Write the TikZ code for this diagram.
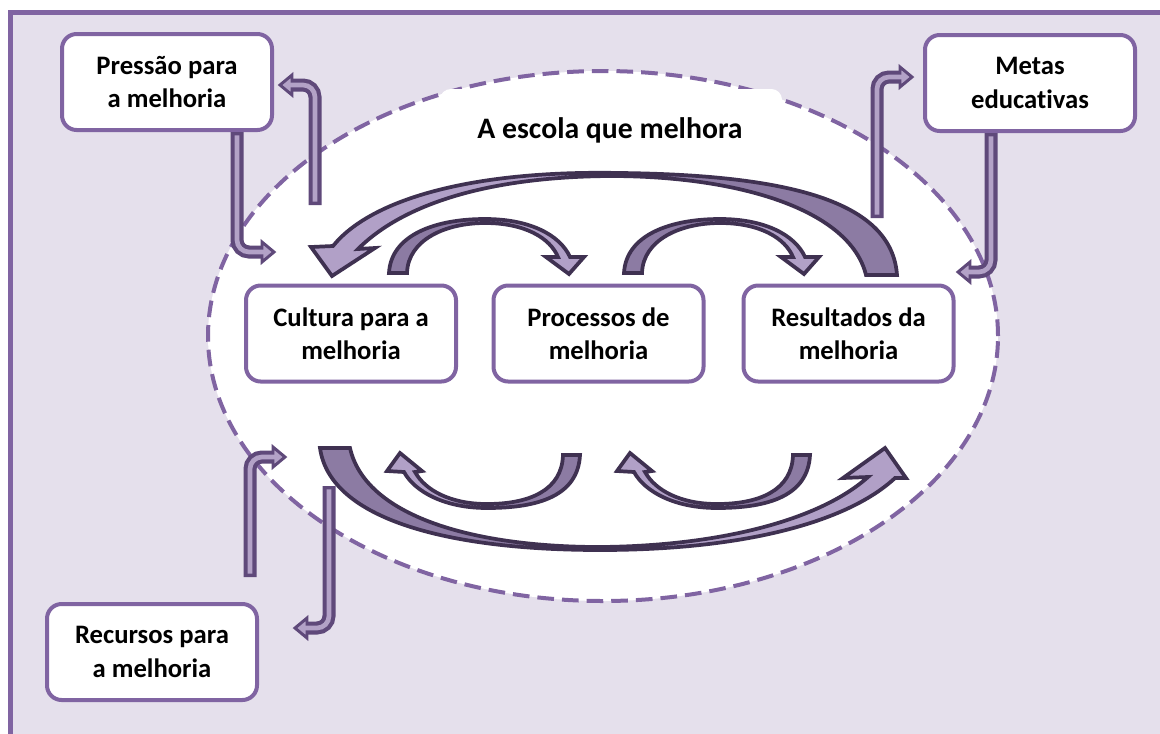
\documentclass[tikz,border=0pt]{standalone}
\usepackage{fontspec}
\setmainfont{Carlito}[Ligatures=NoCommon]
\usetikzlibrary{calc}

\definecolor{frameFill}{HTML}{E5E0EC}
\definecolor{accent}{HTML}{8064A2}
\definecolor{elbowDark}{HTML}{5F497A}
\definecolor{elbowLight}{HTML}{B3A2C7}
\definecolor{bandDark}{HTML}{3F3151}
\definecolor{bandLight}{HTML}{B1A0C7}
\definecolor{bandTail}{HTML}{8C7BA3}

\tikzset{
  box/.style={draw=accent, line width=3pt, fill=white, rounded corners=11pt,
    minimum width=157.5pt, minimum height=72pt, align=center, inner sep=0pt,
    font=\fontsize{20}{25}\selectfont\bfseries},
  titletext/.style={font=\fontsize{22.3}{26}\selectfont\bfseries},
  elbow shaft/.style={draw=elbowDark, line width=9.75pt, rounded corners=9pt},
  elbow core/.style={draw=elbowLight, line width=3.5pt, rounded corners=9pt, shorten <=2.5pt},
  elbow head/.style={draw=elbowDark, fill=elbowLight, line width=2.2pt, line join=miter},
  band outline/.style={draw=bandDark, line width=2.8pt, line join=miter},
}

% bent arrow: start, corner, head base, direction (dx,dy)
\newcommand\elbowarrow[5]{%
  \draw[elbow shaft] (#1) -- (#2) -- (#3);
  \draw[elbow head] ($(#3)+({-10*(#5)},{10*(#4)})$) -- ($(#3)+({12*(#4)},{12*(#5)})$)
     -- ($(#3)+({10*(#5)},{-10*(#4)})$) -- cycle;
  \draw[elbow core] (#1) -- (#2) -- ($(#3)+({4*(#4)},{4*(#5)})$);
}

% ribbon arrow: outline path, region of the darker tail
\newcommand\ribbon[2]{%
  \fill[bandLight] #1;
  \begin{scope}\clip #2; \fill[bandTail] #1;\end{scope}
  \draw[band outline] #1;
}

% ribbon outlines
\def\topband{(897,275) .. controls (892,205) and (800,175) .. (620,173)
  .. controls (470,170) and (370,200) .. (333,246) -- (311,247) -- (332,276)
  -- (375,248) -- (358,249) .. controls (395,212) and (470,177) .. (610,176)
  .. controls (740,176) and (850,210) .. (866,275) -- cycle}
\def\botband{(320,448) .. controls (330,520) and (450,550) .. (600,550)
  .. controls (750,550) and (850,520) .. (895,478) -- (906,478) -- (885,448)
  -- (843,478) -- (868,477) .. controls (820,520) and (720,546) .. (600,547)
  .. controls (470,547) and (365,515) .. (350,448) -- cycle}
\def\upperarc{(389,273) .. controls (391,235) and (435,219) .. (485,219)
  .. controls (530,219) and (560,235) .. (570,257) -- (584,257) -- (569,274)
  -- (546,257) -- (558,257) .. controls (550,238) and (525,223) .. (485,223)
  .. controls (445,223) and (408,240) .. (407,273) -- cycle}
\def\lowerarc{(580,455) .. controls (578,495) and (540,508) .. (487,508)
  .. controls (445,508) and (415,492) .. (404,472) -- (387,471) -- (400,453)
  -- (422,471) -- (415,472) .. controls (425,490) and (450,504) .. (487,504)
  .. controls (530,504) and (562,490) .. (563,455) -- cycle}

\begin{document}
\begin{tikzpicture}[x=0.75pt, y=-0.75pt]
\useasboundingbox (0,0) rectangle (1160,733);
\fill[white] (0,0) rectangle (1160,733);

% outer panel
\draw[accent, line width=3.75pt, fill=frameFill] (10,12.5) rectangle (1180,760);

% the school
\draw[accent, line width=3pt, dash pattern=on 12.5pt off 6pt, fill=white]
  (603,336) ellipse [x radius=296.25pt, y radius=198.75pt];
\fill[white, rounded corners=8pt] (440,89) rectangle (782,160);
\node[titletext] (title) at (610,130) {A escola que melhora};

% boxes
\node[box] (pressao) at (167,82) {Pressão para\\a melhoria};
\node[box] (metas) at (1030,83) {Metas\\educativas};
\node[box] (recursos) at (152,652) {Recursos para\\a melhoria};
\node[box] (cultura) at (351,333.5) {Cultura para a\\melhoria};
\node[box] (processos) at (598.5,333.5) {Processos de\\melhoria};
\node[box] (resultados) at (848.5,333.5) {Resultados da\\melhoria};

% bent arrows
\coordinate (e1c) at (237,252); \coordinate (e1b) at (262,252);
\coordinate (e1s) at (pressao.south -| e1c);
\coordinate (e2s) at (315,205); \coordinate (e2c) at (315,85); \coordinate (e2b) at (292,85);
\coordinate (e3s) at (877,218); \coordinate (e3c) at (877,77); \coordinate (e3b) at (900,77);
\coordinate (e4c) at (991,272); \coordinate (e4b) at (970,272);
\coordinate (e4s) at (metas.south -| e4c);
\coordinate (e5s) at (250,577); \coordinate (e5c) at (250,457); \coordinate (e5b) at (273,457);
\coordinate (e6s) at (329,486); \coordinate (e6c) at (329,628); \coordinate (e6b) at (307,628);

\elbowarrow{e1s}{e1c}{e1b}{1}{0}
\elbowarrow{e2s}{e2c}{e2b}{-1}{0}
\elbowarrow{e3s}{e3c}{e3b}{1}{0}
\elbowarrow{e4s}{e4c}{e4b}{-1}{0}
\elbowarrow{e5s}{e5c}{e5b}{1}{0}
\elbowarrow{e6s}{e6c}{e6b}{-1}{0}

% results back to culture (top)
\ribbon{\topband}{(620,150) rectangle (920,290)}

% culture to results (bottom)
\ribbon{\botband}{(300,430) rectangle (560,560)}

% culture -> processes, processes -> results
\foreach \dx in {0,235}{
  \begin{scope}[shift={(\dx,0)}]
    \ribbon{\upperarc}{(380,200) rectangle (478,280)}
  \end{scope}
}

% processes -> culture, results -> processes
\foreach \dx in {0,230}{
  \begin{scope}[shift={(\dx,0)}]
    \ribbon{\lowerarc}{(495,440) rectangle (590,520)}
  \end{scope}
}
\end{tikzpicture}
\end{document}
